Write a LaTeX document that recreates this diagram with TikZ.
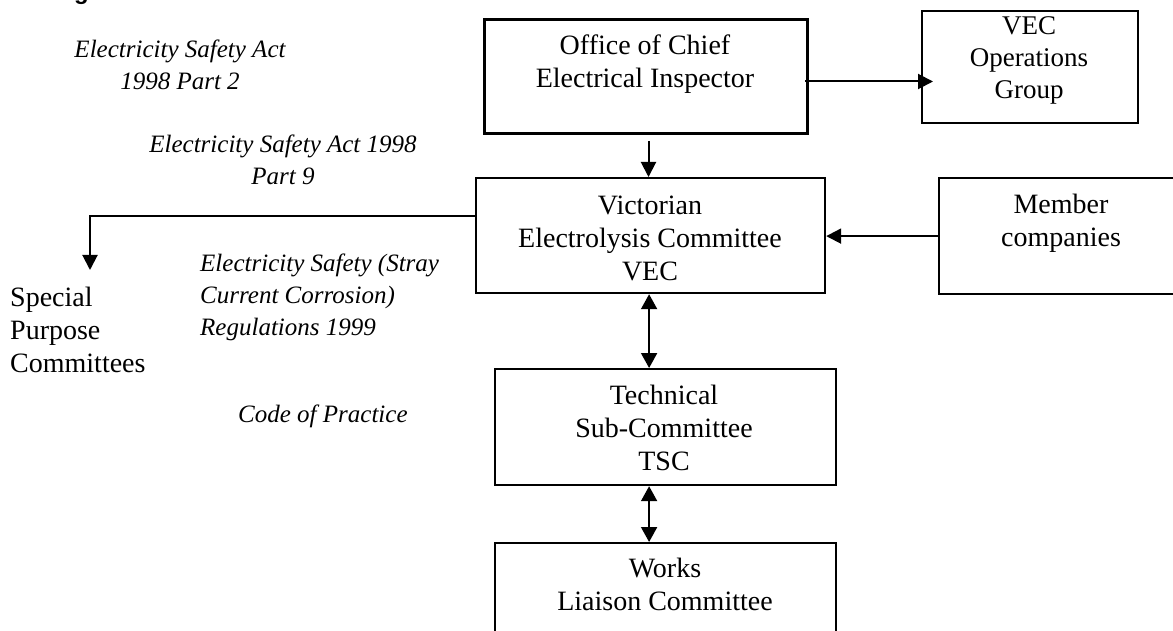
\documentclass[tikz,border=0pt]{standalone}
\usepackage{fontspec}
\setmainfont{Liberation Serif}
\newfontfamily\headsans{Liberation Sans}
\usetikzlibrary{arrows.meta,calc}
\begin{document}
\begin{tikzpicture}[x=1pt,y=-1pt,
  box/.style={draw, line width=2.2pt, inner sep=0pt, anchor=north west},
  txt/.style={font=\fontsize{28}{33}\selectfont, align=center, inner sep=0pt, anchor=base},
  itxt/.style={font=\fontsize{25}{32}\selectfont\itshape, align=center, inner sep=0pt, anchor=base},
  conn/.style={line width=2pt},
  arr/.style={conn, -{Triangle[length=15pt,width=15pt]}},
  dbl/.style={conn, {Triangle[length=15pt,width=16pt]}-{Triangle[length=15pt,width=16pt]}}]
\useasboundingbox (0,0) rectangle (1173,631);
% heading fragment
\node[font=\headsans\bfseries\fontsize{24}{24}\selectfont, anchor=base west, inner sep=0pt] (head) at (74,0) {g};
% boxes
\node[box, line width=3pt, minimum width=323pt, minimum height=114pt] (office) at (483,18) {};
\node[box, minimum width=216pt, minimum height=112pt] (ops) at (921,10) {};
\node[box, minimum width=349pt, minimum height=115pt] (vec) at (475,177) {};
\node[box, minimum width=246pt, minimum height=116pt] (member) at (938,177) {};
\node[box, minimum width=341pt, minimum height=116pt] (tsc) at (494,368) {};
\node[box, minimum width=341pt, minimum height=110pt] (works) at (494,542) {};
% box texts (anchored at the baseline of the last line)
\node[txt, font=\fontsize{27}{32}\selectfont] (opst) at (1029,99) {VEC\\Operations\\Group};
\node[txt] (officet) at (645,88) {Office of Chief\\Electrical Inspector};
\node[txt] (vect) at (650,280) {Victorian\\Electrolysis Committee\\VEC};
\node[txt] (membert) at (1061,247) {Member\\companies};
\node[txt] (tsct) at (664,470) {Technical\\Sub-Committee\\TSC};
\node[txt] (workst) at (665,610) {Works\\Liaison Committee};
\node[txt, align=left, anchor=base west] (spt) at (10,372) {Special\\Purpose\\Committees};
% italic labels
\node[itxt] (act2) at (180,90) {Electricity Safety Act\\1998 Part 2};
\node[itxt] (act9) at (283,185) {Electricity Safety Act 1998\\Part 9};
\node[itxt, align=left, anchor=base west] (regs) at (200,335) {Electricity Safety (Stray\\Current Corrosion)\\Regulations 1999};
\node[itxt, anchor=base west] (cop) at (238,422) {Code of Practice};
% connectors
\coordinate (sptip) at (90,270);
\draw[arr] ($(office.south)+(2.5,6)$) -- ($(office.south |- vec.north)+(2.5,0)$);
\draw[arr] ($(office.east)+(-4,5)$) -- ($(office.east -| ops.west)+(12,5)$);
\draw[arr] (member.west) -- (member.west -| vec.east);
\draw[arr] ($(vec.west)+(0,-20)$) -| (sptip);
\draw[dbl] ($(vec.south)+(-1.5,0)$) -- ($(vec.south |- tsc.north)+(-1.5,0)$);
\draw[dbl] ($(vec.south |- tsc.south)+(-1.5,0)$) -- ($(vec.south |- works.north)+(-1.5,0)$);
\end{tikzpicture}
\end{document}
